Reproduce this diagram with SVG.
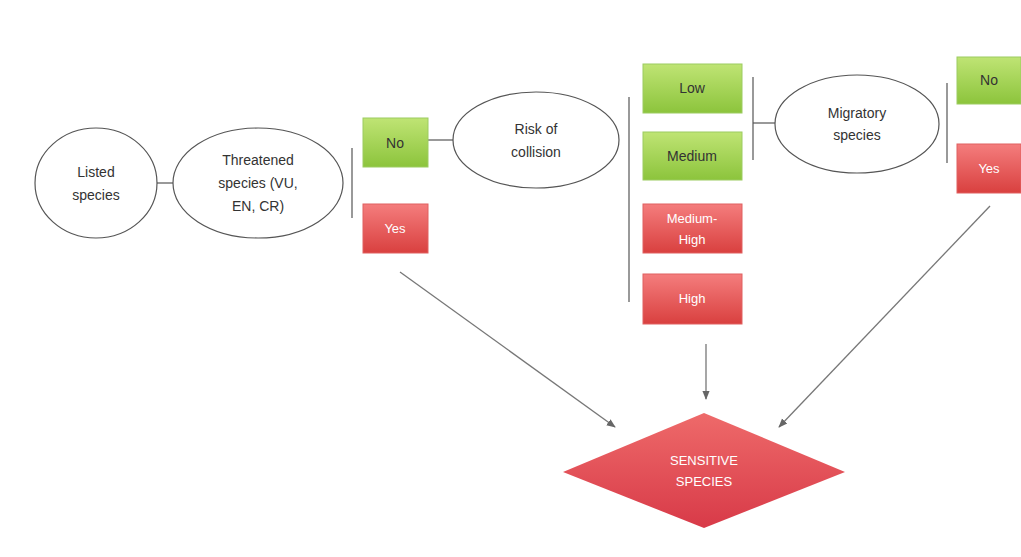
<svg xmlns="http://www.w3.org/2000/svg" width="1021" height="557" viewBox="0 0 1021 557">
<defs>
<linearGradient id="gGreen" x1="0" y1="0" x2="0" y2="1">
<stop offset="0" stop-color="#bfe474"/><stop offset="1" stop-color="#8cc43c"/>
</linearGradient>
<linearGradient id="gRed" x1="0" y1="0" x2="0" y2="1">
<stop offset="0" stop-color="#f47d7d"/><stop offset="1" stop-color="#d9403f"/>
</linearGradient>
<linearGradient id="gDiamond" x1="0" y1="0" x2="0" y2="1">
<stop offset="0" stop-color="#ee6a6a"/><stop offset="1" stop-color="#d83a48"/>
</linearGradient>
<marker id="arr" viewBox="0 0 10 10" refX="9" refY="5" markerWidth="7" markerHeight="7" orient="auto">
<path d="M0,1 L10,5 L0,9 z" fill="#666"/>
</marker>
<style>
.ell{fill:#fff;stroke:#555;stroke-width:1.2}
.txt{font-family:"Liberation Sans",Arial,sans-serif;font-size:14px;fill:#333;text-anchor:middle}
.wtxt{font-family:"Liberation Sans",Arial,sans-serif;font-size:13px;fill:#fff;text-anchor:middle}
.gbox{fill:url(#gGreen);stroke:#9ccc60;stroke-width:1}
.rbox{fill:url(#gRed);stroke:#e06060;stroke-width:1}
.ln{stroke:#555;stroke-width:1.2;fill:none}
.ar{stroke:#777;stroke-width:1.3;fill:none;marker-end:url(#arr)}
</style>
</defs>
<rect width="1021" height="557" fill="#fff"/>
<g id="connectors">
<line class="ln" x1="157" y1="183" x2="173" y2="183"/>
<line class="ln" x1="352" y1="148" x2="352" y2="218"/>
<line class="ln" x1="428" y1="140" x2="454" y2="140"/>
<line class="ln" x1="629" y1="97" x2="629" y2="302"/>
<line class="ln" x1="753" y1="77" x2="753" y2="160"/>
<line class="ln" x1="753" y1="123" x2="775" y2="123"/>
<line class="ln" x1="947" y1="83" x2="947" y2="163"/>
<line class="ar" x1="400" y1="272" x2="615" y2="427"/>
<line class="ar" x1="706" y1="344" x2="706" y2="399"/>
<line class="ar" x1="990" y1="206" x2="779" y2="427"/>
</g>
<g id="listed">
<ellipse class="ell" cx="96" cy="183" rx="61" ry="55"/>
<text class="txt" x="96" y="177">Listed</text>
<text class="txt" x="96" y="200">species</text>
</g>
<g id="threatened">
<ellipse class="ell" cx="258" cy="183" rx="85" ry="55"/>
<text class="txt" x="258" y="165">Threatened</text>
<text class="txt" x="258" y="188">species (VU,</text>
<text class="txt" x="258" y="211">EN, CR)</text>
</g>
<g id="no1">
<rect class="gbox" x="363" y="118" width="65" height="49"/>
<text class="txt" x="395" y="148">No</text>
</g>
<g id="yes1">
<rect class="rbox" x="363" y="204" width="65" height="49"/>
<text class="wtxt" x="395" y="233">Yes</text>
</g>
<g id="risk">
<ellipse class="ell" cx="536" cy="140" rx="83" ry="48"/>
<text class="txt" x="536" y="134">Risk of</text>
<text class="txt" x="536" y="157">collision</text>
</g>
<g id="low">
<rect class="gbox" x="643" y="64" width="99" height="49"/>
<text class="txt" x="692" y="93">Low</text>
</g>
<g id="medium">
<rect class="gbox" x="643" y="132" width="99" height="48"/>
<text class="txt" x="692" y="161">Medium</text>
</g>
<g id="mediumhigh">
<rect class="rbox" x="643" y="204" width="99" height="49"/>
<text class="wtxt" x="692" y="223">Medium-</text>
<text class="wtxt" x="692" y="244">High</text>
</g>
<g id="high">
<rect class="rbox" x="643" y="274" width="99" height="50"/>
<text class="wtxt" x="692" y="303">High</text>
</g>
<g id="migratory">
<ellipse class="ell" cx="857" cy="124" rx="82" ry="49"/>
<text class="txt" x="857" y="118">Migratory</text>
<text class="txt" x="857" y="140">species</text>
</g>
<g id="no2">
<rect class="gbox" x="957" y="57" width="64" height="47"/>
<text class="txt" x="989" y="85">No</text>
</g>
<g id="yes2">
<rect class="rbox" x="957" y="144" width="64" height="49"/>
<text class="wtxt" x="989" y="173">Yes</text>
</g>
<g id="sensitive">
<polygon points="704,413 845,472 704,528 563,472" fill="url(#gDiamond)"/>
<text class="wtxt" x="704" y="465">SENSITIVE</text>
<text class="wtxt" x="704" y="486">SPECIES</text>
</g>
</svg>
